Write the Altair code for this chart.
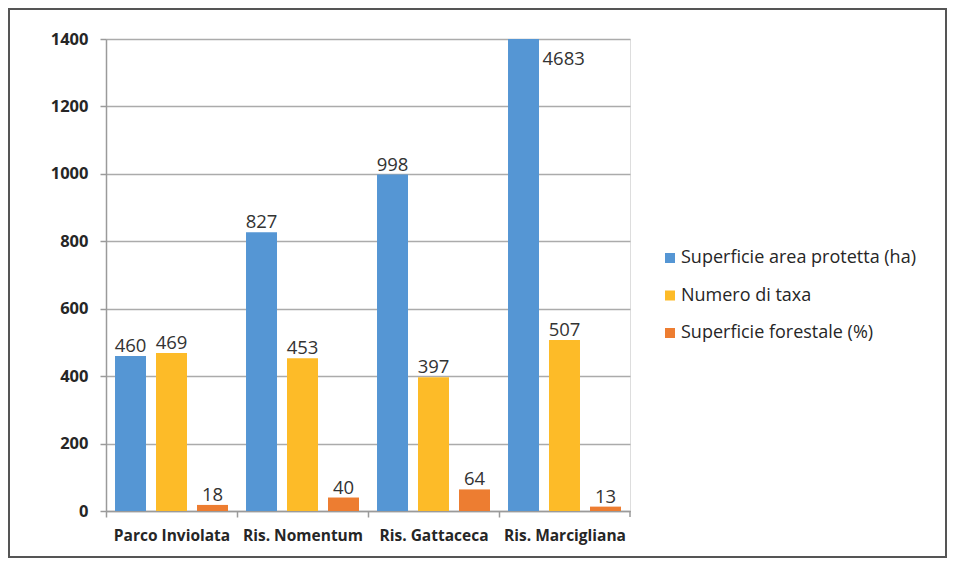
import altair as alt
import pandas as pd

categories = ["Parco Inviolata", "Ris. Nomentum", "Ris. Gattaceca", "Ris. Marcigliana"]
series = ["Superficie area protetta (ha)", "Numero di taxa", "Superficie forestale (%)"]
superficie = [460, 827, 998, 4683]
taxa = [469, 453, 397, 507]
forestale = [18, 40, 64, 13]
colors = ["#5596D4", "#FDBB28", "#ED7D31"]
y_ticks = [0, 200, 400, 600, 800, 1000, 1200, 1400]
y_max = 1400

rows = []
for s, vals in zip(series, [superficie, taxa, forestale]):
    for c, v in zip(categories, vals):
        rows.append({"cat": c, "series": s, "value": v})
df = pd.DataFrame(rows)

W, H = 524, 472
PL, PT, PR, PB = 98, 31, 317, 47
FONT = "Open Sans"

base = alt.Chart(df)

x_enc = alt.X("cat:N", sort=categories, title=None,
              scale=alt.Scale(paddingInner=0, paddingOuter=0),
              axis=alt.Axis(labelAngle=0, labelFont=FONT, labelFontWeight="bold",
                            labelFontSize=15.5, labelColor="#262626", labelPadding=11,
                            tickOffset=-W / 8, labelOffset=W / 8, tickSize=6,
                            tickColor="#9a9a9a", tickWidth=1.5, labelLimit=0,
                            domainColor="#9a9a9a", domainWidth=1.5, grid=False))
y_scale = alt.Scale(domain=[0, y_max], nice=False)
xoff = alt.XOffset("series:N", sort=series,
                   scale=alt.Scale(paddingInner=0.244, paddingOuter=0.22))
color = alt.Color("series:N", sort=series, title=None,
                  scale=alt.Scale(domain=series, range=colors),
                  legend=alt.Legend(orient="none", legendX=555, legendY=210,
                                    symbolType="square", symbolSize=100,
                                    symbolStrokeWidth=0, labelLimit=0,
                                    labelFont=FONT, labelFontSize=18,
                                    labelColor="#262626", rowPadding=19.5,
                                    labelOffset=2))

bars = base.mark_bar(clip=True).encode(
    x=x_enc,
    xOffset=xoff,
    y=alt.Y("value:Q", scale=y_scale, title=None,
            axis=alt.Axis(values=y_ticks, format="d", labelFont=FONT,
                          labelFontWeight="bold",
                          labelFontSize=16.5, labelColor="#262626", labelPadding=12,
                          tickSize=6, tickColor="#9a9a9a", tickWidth=1.5,
                          domainColor="#9a9a9a", domainWidth=1.5,
                          gridColor="#ababab", gridWidth=1.5)),
    color=color,
)

labels = base.transform_filter(alt.datum.value <= y_max).mark_text(
    baseline="alphabetic", dy=-4, font=FONT, fontSize=18.5, color="#333333"
).encode(
    x=alt.X("cat:N", sort=categories),
    xOffset=xoff,
    y=alt.Y("value:Q", scale=y_scale),
    text=alt.Text("value:Q"),
)

labels_over = base.transform_filter(alt.datum.value > y_max).mark_text(
    baseline="middle", align="left", dx=19, dy=20, font=FONT, fontSize=18.5,
    color="#333333"
).encode(
    x=alt.X("cat:N", sort=categories),
    xOffset=xoff,
    y=alt.datum(y_max, type="quantitative", scale=y_scale),
    text=alt.Text("value:Q"),
)

end_tick = alt.Chart(pd.DataFrame({"a": [0]})).mark_rule(
    color="#9a9a9a", strokeWidth=1.5
).encode(x=alt.value(W), y=alt.value(H), y2=alt.value(H + 6))

frame = alt.Chart(pd.DataFrame({"a": [0]})).mark_rect(
    fill="transparent", stroke="#555555", strokeWidth=2
).encode(x=alt.value(-PL + 1), x2=alt.value(W + PR - 1),
         y=alt.value(-PT + 1), y2=alt.value(H + PB - 1))

chart = alt.layer(bars, labels, labels_over, end_tick, frame).properties(
    width=W, height=H,
    autosize=alt.AutoSizeParams(type="none"),
    padding={"left": PL, "top": PT, "right": PR, "bottom": PB},
).configure_view(stroke=None).configure(background="white")

chart.save("out.html", embed_options={"renderer": "svg", "actions": False})
